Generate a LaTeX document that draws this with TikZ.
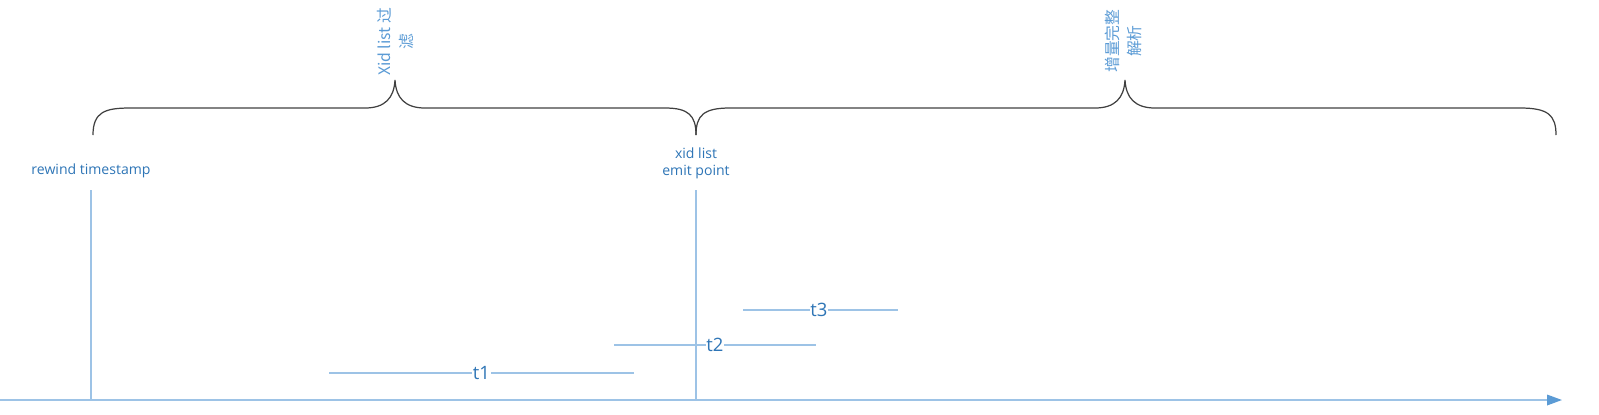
\documentclass[tikz,border=0pt]{standalone}
\usepackage{fontspec}
\setmainfont{Open Sans}
\newfontfamily\cjk{Noto Sans CJK SC}
\usetikzlibrary{arrows.meta}
\definecolor{axisblue}{RGB}{157,195,230}
\definecolor{tipblue}{RGB}{91,155,213}
\definecolor{textblue}{RGB}{46,117,182}
\definecolor{bracegray}{RGB}{64,64,64}

\begin{document}
\begin{tikzpicture}[x=0.02cm,y=-0.02cm,>=Triangle,
                    time line/.style=   {draw=axisblue,line width=0.9pt},
                    time axis/.style=   {time line,-{Triangle[length=8.5pt,width=6pt,color=tipblue,fill=tipblue]}},
                    brace line/.style=  {draw=bracegray,line width=0.7pt},
                    point label/.style= {text=textblue,font=\fontsize{8}{9.5}\selectfont,align=center,inner sep=0pt},
                    phase label/.style= {text=tipblue,font=\cjk\fontsize{9}{12.5}\selectfont,align=center,rotate=90,inner sep=0pt},
                    txn label/.style=   {text=textblue,font=\fontsize{10.5}{12}\selectfont,fill=white,inner sep=0.5pt}]
      \useasboundingbox (0,0) rectangle (1599,414);
      % time axis
      \coordinate (o) at (0,400);
      \coordinate (end) at (1562,400);
      \draw[time axis] (o) -- (end);
      % points in time
      \node[point label] (rewind) at (91,171) {rewind timestamp};
      \node[point label] (emit) at (696,163) {xid list\\emit point};
      \coordinate (rewind base) at (91,400);
      \coordinate (emit base) at (696,400);
      \draw[time line,line width=0.7pt] (91,190) -- (rewind base);
      \draw[time line,line width=0.7pt] (696,190) -- (emit base);
      % braces
      \draw[brace line] (93,135) .. controls (93,112) and (105,108) .. (130,108)
                        -- (365,108) .. controls (385,108) and (394,98) .. (395,80)
                        .. controls (396,98) and (405,108) .. (425,108)
                        -- (665,108) .. controls (688,108) and (696,115) .. (696,135);
      \draw[brace line] (696,135) .. controls (696,115) and (704,108) .. (730,108)
                        -- (1095,108) .. controls (1115,108) and (1124,98) .. (1125,80)
                        .. controls (1126,98) and (1135,108) .. (1155,108)
                        -- (1520,108) .. controls (1548,108) and (1556,115) .. (1556,135);
      \node[phase label] (xidfilter) at (396,42) {Xid list 过\\滤};
      \node[phase label] (fullparse) at (1123,41) {增量完整\\解析};
      % transactions
      \coordinate (t1 start) at (329,373);
      \coordinate (t1 end) at (634,373);
      \coordinate (t2 start) at (614,345);
      \coordinate (t2 end) at (816,345);
      \coordinate (t3 start) at (743,310);
      \coordinate (t3 end) at (898,310);
      \draw[time line] (t1 start) -- node[txn label,pos=0.5] (t1) {t1} (t1 end);
      \draw[time line] (t2 start) -- node[txn label,pos=0.5] (t2) {t2} (t2 end);
      \draw[time line] (t3 start) -- node[txn label,pos=0.49] (t3) {t3} (t3 end);
\end{tikzpicture}
\end{document}
